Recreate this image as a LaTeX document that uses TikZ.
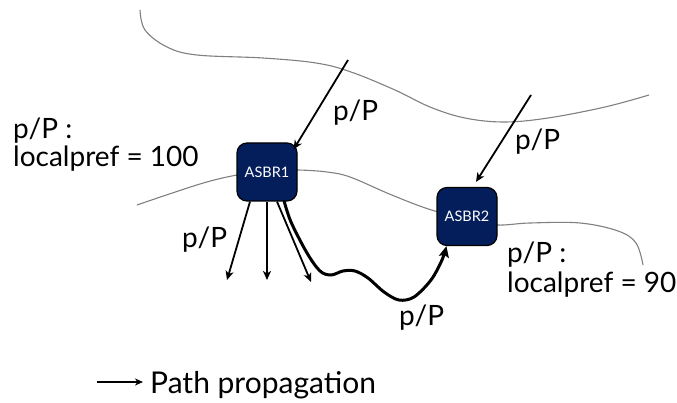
\documentclass[tikz,border=0pt]{standalone}
\usepackage{fontspec}
\setmainfont{Lato}
\usetikzlibrary{arrows.meta,calc}
\definecolor{navybox}{RGB}{4,30,92}
\definecolor{bordergray}{RGB}{128,128,128}
\tikzset{
  router/.style={draw=black, line width=1.2pt, fill=navybox, rounded corners=10pt,
    minimum width=60pt, minimum height=58pt, inner sep=0pt, text=white,
    font=\fontsize{14.5}{15}\selectfont},
  border/.style={draw=bordergray, line width=1.1pt},
  arr/.style={draw=black, line width=1.8pt, -{Stealth[length=9pt,width=8pt,inset=2.5pt]}},
  bigarr/.style={draw=black, line width=3pt, -{Stealth[length=11pt,width=10pt,inset=2pt]}},
  lbl/.style={inner sep=0pt, anchor=base west, font=\fontsize{28}{33}\selectfont},
}
\begin{document}
\begin{tikzpicture}[x=1pt,y=-1pt]
\useasboundingbox (0,0) rectangle (677,403);
% AS boundaries
\draw[border] plot[smooth,tension=0.6] coordinates {(140,10) (145,30) (167,47) (197,55) (263,58) (316,63) (351,72) (395,90) (430,107) (465,118) (504,122) (548,118) (605,107) (649,95)};
\draw[border] plot[smooth,tension=0.6] coordinates {(137,205) (200,184) (237,175) (267,171) (297,170) (327,172) (350,177) (387,193) (417,205) (438,212) (467,220) (497,225) (530,223) (580,223) (618,231) (636,243) (643,265)};
% routers
\node[router] (asbr1) at (267,172) {ASBR1};
\node[router] (asbr2) at (467,216.5) {ASBR2};
% incoming announcements
\coordinate (t1) at (348,60);
\coordinate (t2) at (531,95);
\draw[arr] (t1) -- ($(asbr1.north east)+(-4,7)$);
\draw[arr] (t2) -- ($(asbr2.north)+(9,-5)$);
% propagation inside the AS
\coordinate (d1) at (227,280);
\coordinate (d2) at (267,280);
\coordinate (d3) at (311,282);
\draw[arr] ($(asbr1.south)+(-17,0)$) -- (d1);
\draw[arr] (asbr1.south) -- (d2);
\draw[arr] ($(asbr1.south)+(10,0)$) -- (d3);
\draw[bigarr] plot[smooth,tension=0.55] coordinates {($(asbr1.south)+(17,-1)$) (291,222) (307,253) (320,271) (331,275) (343,271) (355,271) (368,278) (384,292) (399,300) (414,297) (431,280) (442,260) ($(asbr2.south west)+(10,0)$)};
% labels
\node[lbl] (l1a) at (13,139) {p/P :};
\node[lbl] (l1b) at (13,167) {localpref = 100};
\node[lbl] (l2a) at (507,263) {p/P :};
\node[lbl] (l2b) at (507,293) {localpref = 90};
\node[lbl] (p1) at (333,121) {p/P};
\node[lbl] (p2) at (515,150) {p/P};
\node[lbl] (p3) at (182,248) {p/P};
\node[lbl] (p4) at (399,325) {p/P};
% legend
\node[lbl, font=\fontsize{30}{34}\selectfont] (leg) at (150,393) {Path propagation};
\coordinate (l0) at (97,382);
\draw[arr, line width=1.5pt, shorten >=7pt, -{Stealth[length=8pt,width=7pt,inset=2.5pt]}] (l0) -- (l0 -| leg.west);
\end{tikzpicture}
\end{document}
